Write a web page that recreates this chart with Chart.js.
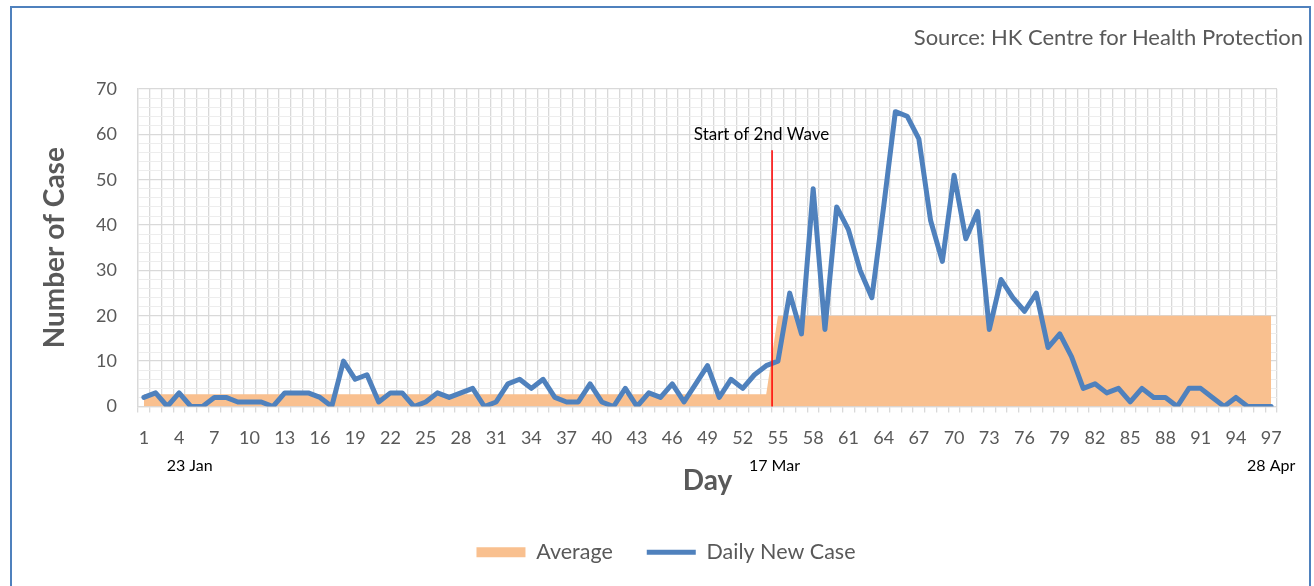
<!DOCTYPE html>
<html lang="en">
<head>
<meta charset="UTF-8">
<title>Daily New Cases - Hong Kong</title>
<script src="https://cdn.jsdelivr.net/npm/chart.js"></script>
<style>
    *{
        margin: 0;
        padding: 0;
    }
    html, body{
        width: 1314px;
        height: 586px;
        overflow: hidden;
        background: #fff;
    }
    #frame{
        position: absolute;
        left: 10px;
        top: 6px;
        width: 1297px;
        height: 640px;
        border: 2px solid #4f81bd;
    }
    #source{
        position: absolute;
        right: 11px;
        top: 23px;
        font-family: 'Lato', sans-serif;
        font-size: 22px;
        color: #595959;
    }
    canvas{
        position: absolute;
        left: 0;
        top: 0;
    }
</style>
</head>
<body>
<div id="frame"></div>
<canvas id="chart" width="1314" height="586"></canvas>
<div id="source">Source: HK Centre for Health Protection</div>
<script>
    // day number on the x axis
    const days = [1,2,3,4,5,6,7,8,9,10,11,12,13,14,15,16,17,18,19,20,
        21,22,23,24,25,26,27,28,29,30,31,32,33,34,35,36,37,38,39,40,
        41,42,43,44,45,46,47,48,49,50,51,52,53,54,55,56,57,58,59,60,
        61,62,63,64,65,66,67,68,69,70,71,72,73,74,75,76,77,78,79,80,
        81,82,83,84,85,86,87,88,89,90,91,92,93,94,95,96,97]

    // daily new cases
    const dailyCases = [2,3,0,3,0,0,2,2,1,1,
        1,0,3,3,3,2,0,10,6,7,
        1,3,3,0,1,3,2,3,4,0,
        1,5,6,4,6,2,1,1,5,1,
        0,4,0,3,2,5,1,5,9,2,
        6,4,7,9,10,25,16,48,17,44,
        39,30,24,44,65,64,59,41,32,51,
        37,43,17,28,24,21,25,13,16,11,
        4,5,3,4,1,4,2,2,0,4,
        4,2,0,2,0,0,0]

    // average of each wave (day 1-54 and day 55-97)
    const average = [2.7,2.7,2.7,2.7,2.7,2.7,2.7,2.7,2.7,2.7,
        2.7,2.7,2.7,2.7,2.7,2.7,2.7,2.7,2.7,2.7,
        2.7,2.7,2.7,2.7,2.7,2.7,2.7,2.7,2.7,2.7,
        2.7,2.7,2.7,2.7,2.7,2.7,2.7,2.7,2.7,2.7,
        2.7,2.7,2.7,2.7,2.7,2.7,2.7,2.7,2.7,2.7,
        2.7,2.7,2.7,2.7,20,20,20,20,20,20,
        20,20,20,20,20,20,20,20,20,20,
        20,20,20,20,20,20,20,20,20,20,
        20,20,20,20,20,20,20,20,20,20,
        20,20,20,20,20,20,20]

    // date notes under the axis, placed at a category position
    const dateNotes = ['23 Jan', '17 Mar', '28 Apr']
    const dateNoteAt = [3.9, 53.7, 96]

    // second wave marker: between day 54 and day 55
    const waveAt = 53.5
    const waveTop = 56.5
    const waveLabel = 'Start of 2nd Wave'
    const waveLabelAt = 52.6
    const waveLabelY = 60

    const grey = '#595959'
    const gridGrey = '#d9d9d9'
    const font = "'Lato', sans-serif"

    const notes = {
        id: 'notes',
        afterDatasetsDraw(chart) {
            const ctx = chart.ctx
            const x = chart.scales.x
            const y = chart.scales.y
            ctx.save()
            // red start-of-wave line
            const xp = x.getPixelForValue(waveAt)
            ctx.strokeStyle = '#ff0000'
            ctx.lineWidth = 1.5
            ctx.beginPath()
            ctx.moveTo(xp, y.getPixelForValue(waveTop))
            ctx.lineTo(xp, y.getPixelForValue(0))
            ctx.stroke()
            ctx.fillStyle = '#000'
            ctx.font = '17px ' + font
            ctx.textAlign = 'center'
            ctx.textBaseline = 'middle'
            ctx.fillText(waveLabel, x.getPixelForValue(waveLabelAt), y.getPixelForValue(waveLabelY))
            // dates under the tick labels
            ctx.font = '16px ' + font
            for (let i = 0; i < dateNotes.length; i++) {
                ctx.fillText(dateNotes[i], x.getPixelForValue(dateNoteAt[i]), chart.chartArea.bottom + 59)
            }
            ctx.restore()
        }
    }

    const data = {
        labels: days,
        datasets: [{
            label: 'Daily New Case',
            data: dailyCases,
            borderColor: '#4f81bd',
            backgroundColor: '#4f81bd',
            borderWidth: 5,
            borderJoinStyle: 'round',
            borderCapStyle: 'round',
            pointRadius: 0,
            pointStyle: 'line',
            tension: 0,
            fill: false
        },
        {
            label: 'Average',
            data: average,
            backgroundColor: '#f9c08f',
            borderWidth: 0,
            fill: 'origin',
            pointRadius: 0,
            pointStyle: 'rect',
            tension: 0
        }]
    }

    const config = {
        type: 'line',
        data: data,
        plugins: [notes],
        options: {
            responsive: false,
            animation: false,
            layout: {
                padding: {top: 89, right: 0, left: 18, bottom: 13}
            },
            plugins: {
                tooltip: {enabled: false},
                legend: {
                    position: 'bottom',
                    labels: {
                        usePointStyle: true,
                        pointStyleWidth: 49,
                        boxHeight: 10,
                        padding: 34,
                        color: grey,
                        font: {family: font, size: 21.5},
                        sort: (a, b) => b.datasetIndex - a.datasetIndex
                    }
                }
            },
            scales: {
                x: {
                    offset: true,
                    grid: {
                        offset: true,
                        color: gridGrey,
                        lineWidth: 1.3,
                        drawTicks: true,
                        tickLength: 6
                    },
                    border: {color: gridGrey, width: 1.3},
                    ticks: {
                        autoSkip: false,
                        maxRotation: 0,
                        padding: 15,
                        color: grey,
                        font: {family: font, size: 18},
                        callback: (val, i) => (i % 3 === 0 ? days[i] : '')
                    },
                    title: {
                        display: true,
                        text: 'Day',
                        color: grey,
                        font: {family: font, size: 28, weight: 'bold'},
                        padding: {top: 0, bottom: 9.5}
                    },
                    afterFit: (s) => { s.height = 101 }
                },
                y: {
                    min: 0,
                    max: 70,
                    grid: {
                        drawTicks: false,
                        color: (c) => (c.tick.value % 10 === 0 ? gridGrey : '#ededed'),
                        lineWidth: (c) => (c.tick.value % 10 === 0 ? 1.3 : 1)
                    },
                    border: {color: gridGrey, width: 1.3},
                    ticks: {
                        stepSize: 2,
                        autoSkip: false,
                        padding: 21,
                        color: grey,
                        font: {family: font, size: 18},
                        callback: (v) => (v % 10 === 0 ? v : '')
                    },
                    title: {
                        display: true,
                        text: 'Number of Case',
                        color: grey,
                        font: {family: font, size: 28, weight: 'bold'},
                        padding: {top: 20, bottom: 0}
                    },
                    afterFit: (s) => { s.width = 120 }
                },
                // empty right-hand box that keeps the plot clear of the frame
                yRight: {
                    position: 'right',
                    display: true,
                    grid: {drawOnChartArea: false, drawTicks: false},
                    border: {display: false},
                    ticks: {display: false},
                    afterFit: (s) => { s.width = 37 }
                }
            }
        }
    }

    new Chart(document.getElementById('chart'), config)
</script>
</body>
</html>
